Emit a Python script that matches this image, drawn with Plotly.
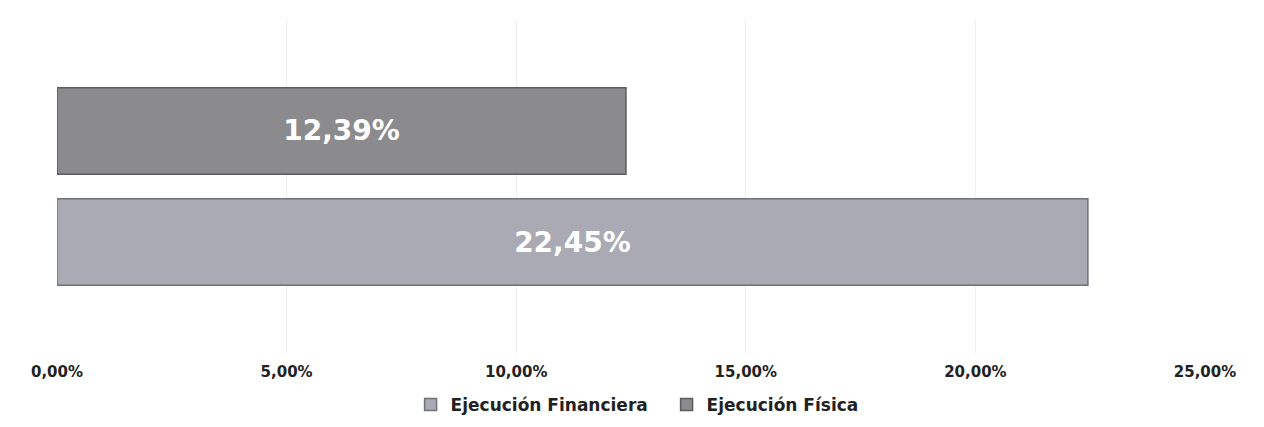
import plotly.graph_objects as go

category = [""]
series_names = ["Ejecución Financiera", "Ejecución Física"]
financiera = [0.2245]
fisica = [0.1239]
tick_vals = [0, 0.05, 0.10, 0.15, 0.20, 0.25]

FONT = "DejaVu Sans, Lato, sans-serif"

fig = go.Figure()
fig.add_trace(go.Bar(
    name=series_names[0], y=category, x=financiera, orientation="h",
    marker=dict(color="#a9aab4", line=dict(color="#6f7078", width=1.5)),
    texttemplate="%{x:.2%}", textposition="inside", insidetextanchor="middle",
    textfont=dict(color="white", size=28, family=FONT, weight="bold"),
))
fig.add_trace(go.Bar(
    name=series_names[1], y=category, x=fisica, orientation="h",
    marker=dict(color="#8b8b8d", line=dict(color="#5c5c5e", width=1.5)),
    texttemplate="%{x:.2%}", textposition="inside", insidetextanchor="middle",
    textfont=dict(color="white", size=28, family=FONT, weight="bold"),
))

fig.update_layout(
    width=1264, height=427,
    paper_bgcolor="white", plot_bgcolor="white",
    separators=",.",
    barmode="group", bargap=0.333, bargroupgap=0.22,
    margin=dict(l=49, r=67, t=12, b=82, autoexpand=False),
    showlegend=True,
    legend=dict(orientation="h", x=0.308, xanchor="left", y=-0.156, yanchor="middle",
                font=dict(size=17, color="#222", family=FONT, weight="bold"),
                traceorder="normal", itemwidth=30, entrywidth=211, entrywidthmode="pixels"),
    xaxis=dict(range=[0, 0.25], tickvals=tick_vals, tickformat=".2%",
               showgrid=True, gridcolor="#efefef", gridwidth=1, zeroline=False,
               showline=False, ticks="", automargin=False, ticklabelstandoff=8,
               tickfont=dict(size=15, color="#222", family=FONT, weight="bold")),
    yaxis=dict(showticklabels=False, showgrid=False, zeroline=False, showline=False,
               automargin=False),
    uniformtext=dict(minsize=10, mode="show"),
)

fig.write_html("out.html")
